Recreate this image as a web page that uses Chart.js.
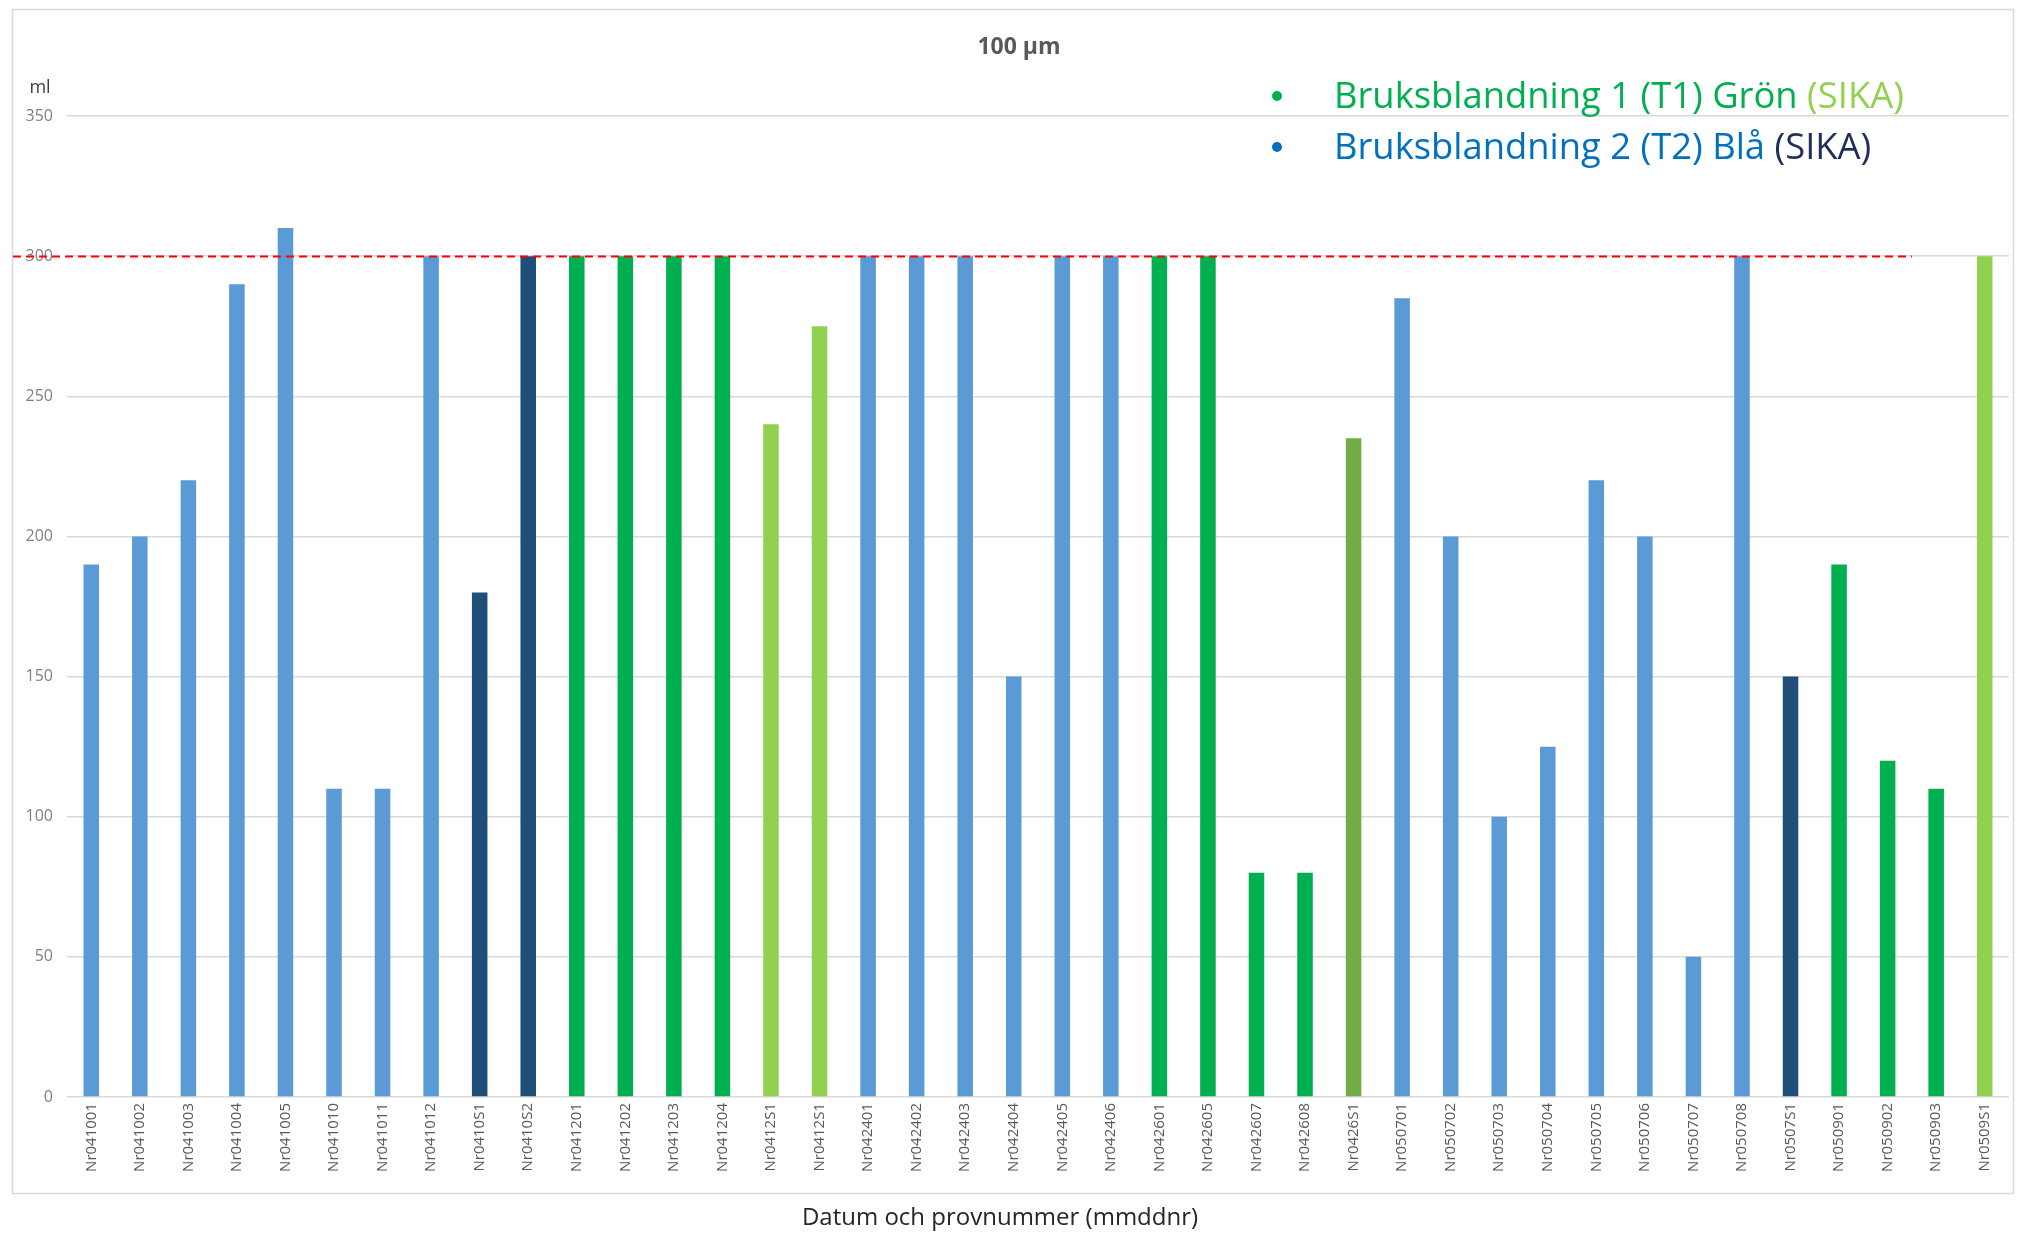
<!DOCTYPE html>
<html lang="sv">
<head>
<meta charset="utf-8">
<title>100 µm</title>
<script src="https://cdn.jsdelivr.net/npm/chart.js@4.4.1/dist/chart.umd.min.js"></script>
<style>
  html, body { margin: 0; padding: 0; background: #ffffff; }
  #wrap { width: 2017px; height: 1234px; }
</style>
</head>
<body>
<div id="wrap"><canvas id="c" width="2017" height="1234"></canvas></div>
<script>
// Sample numbers (mmddnr)
const samples = [
  'Nr041001','Nr041002','Nr041003','Nr041004','Nr041005','Nr041010','Nr041011','Nr041012',
  'Nr0410S1','Nr0410S2','Nr041201','Nr041202','Nr041203','Nr041204','Nr0412S1','Nr0412S1',
  'Nr042401','Nr042402','Nr042403','Nr042404','Nr042405','Nr042406','Nr042601','Nr042605',
  'Nr042607','Nr042608','Nr0426S1','Nr050701','Nr050702','Nr050703','Nr050704','Nr050705',
  'Nr050706','Nr050707','Nr050708','Nr0507S1','Nr050901','Nr050902','Nr050903','Nr0509S1'
];

// Measured volume, ml
const volumes = [
  190, 200, 220, 290, 310, 110, 110, 300,
  180, 300, 300, 300, 300, 300, 240, 275,
  300, 300, 300, 150, 300, 300, 300, 300,
   80,  80, 235, 285, 200, 100, 125, 220,
  200,  50, 300, 150, 190, 120, 110, 300
];

// Mixture of each sample: T1 = Bruksblandning 1, T2 = Bruksblandning 2, S = SIKA
const mixes = [
  'T2','T2','T2','T2','T2','T2','T2','T2',
  'T2S','T2S','T1','T1','T1','T1','T1S','T1S',
  'T2','T2','T2','T2','T2','T2','T1','T1',
  'T1','T1','T1S2','T2','T2','T2','T2','T2',
  'T2','T2','T2','T2S','T1','T1','T1','T1S'
];

const yTicks = [0, 50, 100, 150, 200, 250, 300, 350];
const limit = 300;

const mixColors = {
  T1:   '#00b050',
  T1S:  '#92d050',
  T1S2: '#70ad47',
  T2:   '#5b9bd5',
  T2S:  '#1f4e79'
};

const legendLines = [
  { dot: '#00b050', parts: [['Bruksblandning 1 (T1) Grön ', '#00b050'], ['(SIKA)', '#92d050']] },
  { dot: '#0070c0', parts: [['Bruksblandning 2 (T2) Blå ', '#0070c0'], ['(SIKA)', '#1f2d5a']] }
];

const FONT = "'Open Sans', 'DejaVu Sans', sans-serif";

// White page with a light frame round the chart
const framePlugin = {
  id: 'frame',
  beforeDraw(chart) {
    const ctx = chart.ctx;
    ctx.save();
    ctx.fillStyle = '#ffffff';
    ctx.fillRect(0, 0, chart.width, chart.height);
    ctx.strokeStyle = '#d9d9d9';
    ctx.lineWidth = 1.5;
    ctx.strokeRect(12.5, 9.5, 2001, 1184);
    ctx.restore();
  }
};

// Limit line, titles, unit label and the coloured legend text
const overlayPlugin = {
  id: 'overlay',
  afterDatasetsDraw(chart) {
    const ctx = chart.ctx;
    const x = chart.scales.x;
    const y = chart.scales.y;
    const yLim = Math.round(y.getPixelForValue(limit)) + 0.5;
    const xEnd = (x.getPixelForValue(37) + x.getPixelForValue(38)) / 2;
    ctx.save();
    ctx.strokeStyle = '#ff0000';
    ctx.lineWidth = 2;
    ctx.setLineDash([8, 5]);
    ctx.beginPath();
    ctx.moveTo(13, yLim);
    ctx.lineTo(xEnd, yLim);
    ctx.stroke();
    ctx.restore();
  },
  afterDraw(chart) {
    const ctx = chart.ctx;
    ctx.save();
    ctx.textBaseline = 'middle';

    ctx.fillStyle = '#595959';
    ctx.textAlign = 'center';
    ctx.font = 'bold 23px ' + FONT;
    ctx.fillText('100 µm', 1019, 47);

    ctx.fillStyle = '#262626';
    ctx.font = '24px ' + FONT;
    ctx.fillText('Datum och provnummer (mmddnr)', 1000, 1218);

    ctx.fillStyle = '#404040';
    ctx.font = '18px ' + FONT;
    ctx.fillText('ml', 40, 88);

    // legend: scale the font so the first line spans its width
    ctx.textAlign = 'left';
    ctx.font = '100px ' + FONT;
    const full = legendLines[0].parts.map(p => p[0]).join('');
    const size = 100 * 570 / ctx.measureText(full).width;
    ctx.font = size.toFixed(2) + 'px ' + FONT;
    const rows = [98, 149];
    legendLines.forEach((line, i) => {
      ctx.fillStyle = line.dot;
      ctx.beginPath();
      ctx.arc(1277, rows[i] - 2, 5, 0, Math.PI * 2);
      ctx.fill();
      let cx = 1334;
      line.parts.forEach(([txt, col]) => {
        ctx.fillStyle = col;
        ctx.fillText(txt, cx, rows[i]);
        cx += ctx.measureText(txt).width;
      });
    });
    ctx.restore();
  }
};

new Chart(document.getElementById('c'), {
  type: 'bar',
  data: {
    labels: samples,
    datasets: [{
      data: volumes,
      backgroundColor: mixes.map(m => mixColors[m]),
      borderWidth: 0,
      barPercentage: 0.32,
      categoryPercentage: 1.0
    }]
  },
  options: {
    responsive: false,
    animation: false,
    devicePixelRatio: 1,
    layout: { padding: { top: 116, right: 8, bottom: 0, left: 0 } },
    plugins: {
      legend: { display: false },
      title: { display: false },
      tooltip: { enabled: false }
    },
    scales: {
      x: {
        grid: { display: false, drawTicks: false },
        border: { display: false },
        ticks: {
          autoSkip: false,
          minRotation: 90,
          maxRotation: 90,
          padding: 6,
          color: '#595959',
          font: { family: FONT, size: 15 }
        },
        afterFit(scale) { scale.height = 137; }
      },
      y: {
        min: 0,
        max: 350,
        afterBuildTicks(scale) { scale.ticks = yTicks.map(v => ({ value: v })); },
        grid: { color: '#d9d9d9', lineWidth: 1.5, drawTicks: false },
        border: { display: false },
        ticks: {
          padding: 14,
          color: '#7f7f7f',
          font: { family: FONT, size: 16 }
        },
        afterFit(scale) { scale.width = 67; }
      }
    }
  },
  plugins: [framePlugin, overlayPlugin]
});
</script>
</body>
</html>
